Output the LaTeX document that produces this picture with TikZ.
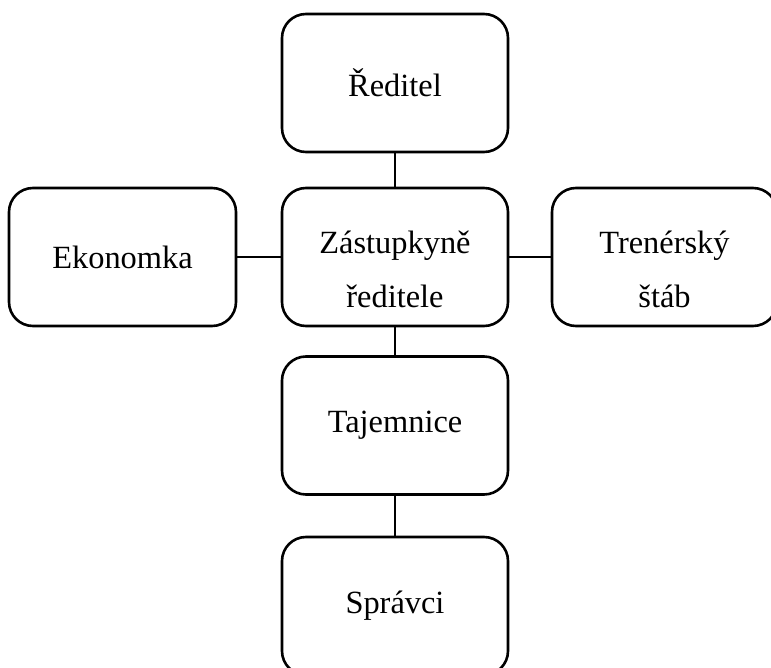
\documentclass[tikz,border=0pt]{standalone}
\usepackage{fontspec}
\setmainfont{Liberation Serif}
\usepackage{tikz}
\definecolor{cernaBox}{RGB}{0,0,0}
\tikzset{
  funkce/.style={draw=cernaBox, line width=2.6pt, rounded corners=24pt,
    minimum width=226pt, minimum height=138pt, inner sep=0pt,
    align=center, font=\fontsize{32.4}{54}\selectfont},
  vazba/.style={draw=cernaBox, line width=2.6pt}
}
\newcommand{\horniOkraj}{\rule{0pt}{48pt}}

\begin{document}
\begin{tikzpicture}[x=1pt,y=-1pt]
  \useasboundingbox (0,0) rectangle (771,668);
  % Central column
  \node[funkce] (reditel) at (395,83) {Ředitel};
  \node[funkce] (zastupkyne) at (395,257) {\horniOkraj Zástupkyně\\ředitele};
  \node[funkce] (tajemnice) at (395,425.5) {Tajemnice};
  \node[funkce] (spravci) at (395,606) {Správci};
  % Side boxes
  \node[funkce, minimum width=227pt] (ekonomka) at (122.5,257) {Ekonomka};
  \node[funkce, minimum width=225pt] (trener) at (664.5,257)
    {\horniOkraj Trenérský\\štáb};
  % Links
  \draw[vazba] (reditel) -- (zastupkyne);
  \draw[vazba] (zastupkyne) -- (tajemnice);
  \draw[vazba] (tajemnice) -- (spravci);
  \draw[vazba] (ekonomka) -- (zastupkyne);
  \draw[vazba] (zastupkyne) -- (trener);
\end{tikzpicture}
\end{document}
